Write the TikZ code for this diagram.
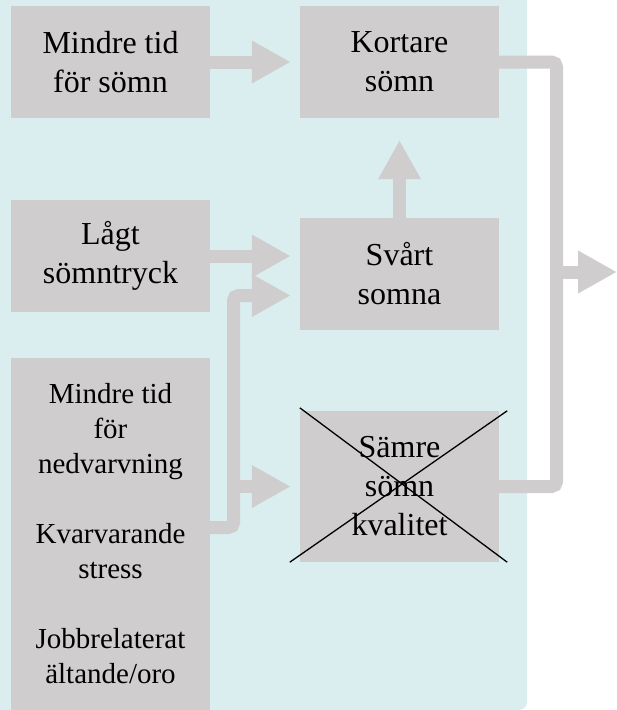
\documentclass[tikz,border=0pt]{standalone}
\usepackage{fontspec}
\setmainfont{Liberation Serif}
\usetikzlibrary{arrows.meta, calc}
\definecolor{ljusbla}{RGB}{218,238,240}
\definecolor{ljusgra}{RGB}{207,205,206}

\begin{document}
\begin{tikzpicture}[x=1pt,y=-1pt,
  ruta/.style={fill=ljusgra,inner sep=0pt,minimum width=199pt,minimum height=112pt,align=center,font=\fontsize{32}{39}\selectfont},
  pil/.style={draw=ljusgra,line width=13pt,-{Triangle[length=39pt,width=40pt]}},
  linje/.style={draw=ljusgra,line width=13pt,rounded corners=5pt}]
  \useasboundingbox (0,0) rectangle (617,710);
  \fill[ljusbla,rounded corners=8pt] (-20,-20) rectangle (527,710);
  \path (110.5,62) node[ruta] (tidsomn) {Mindre tid\\för sömn}
    (399.5,62) node[ruta] (kortare) {Kortare\\sömn}
    (110.5,256) node[ruta] (lagt) {Lågt\\sömntryck}
    (399.5,274) node[ruta] (svart) {Svårt\\somna}
    (399.5,486.5) node[ruta,minimum height=151pt] (samre) {Sämre\\sömn\\kvalitet}
    (110.5,534) node[ruta,minimum height=352pt,font=\fontsize{29}{35}\selectfont] (faktorer)
      {Mindre tid\\för\\nedvarvning\\[35pt]Kvarvarande\\stress\\[35pt]Jobbrelaterat\\ältande/oro};
  \coordinate (knut) at (233.5,295.5);
  \coordinate (gren) at (233.5,486.5);
  \coordinate (hoger) at (556.5,272);
  \coordinate (ut) at (617,272);
  \draw[pil,shorten >=9pt] (tidsomn) -- (kortare);
  \draw[pil,shorten >=22pt] (svart) -- (kortare);
  \draw[pil,shorten >=9pt] (lagt.east) -- (svart.west |- lagt.east);
  \draw[pil,shorten >=9pt,rounded corners=5pt] (faktorer.east |- 0,527.5) -| (knut) -- (svart.west |- knut);
  \draw[pil,shorten >=9pt] (gren) -- (samre.west);
  \draw[linje] (kortare.east) -| (hoger |- samre.east) -- (samre.east);
  \draw[pil] (hoger) -- (ut);
  \draw[line width=1.3pt] ($(samre.north west)+(0,-3)$) -- ($(samre.south east)+(8,0)$);
  \draw[line width=1.3pt] ($(samre.south west)+(-10,0)$) -- ($(samre.north east)+(8,0)$);
\end{tikzpicture}
\end{document}
